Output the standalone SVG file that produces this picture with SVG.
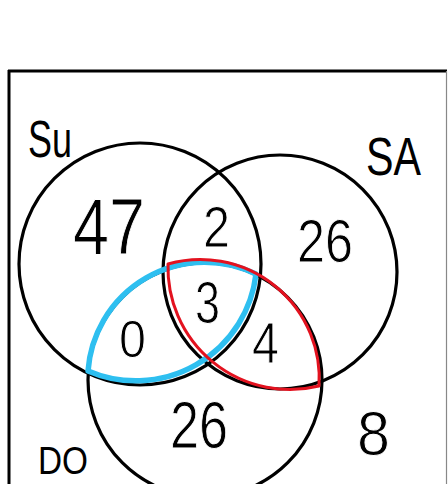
<svg xmlns="http://www.w3.org/2000/svg" width="448" height="484" viewBox="0 0 448 484">
<style>
.c{fill:none;stroke:#000;stroke-width:3.2}
.t{font-family:"Liberation Sans",Arial,sans-serif;fill:#000}
.n{stroke:#fff;stroke-width:1}
.blue{fill:none;stroke:#2ebff0;stroke-width:5.5;stroke-linejoin:round}
.red{fill:none;stroke:#e3121f;stroke-width:3;stroke-linejoin:round}
</style>
<rect width="448" height="484" fill="#fff"/>
<g id="frame">
<line x1="8" y1="71" x2="447" y2="71" stroke="#000" stroke-width="3"/>
<line x1="9" y1="70" x2="9" y2="484" stroke="#000" stroke-width="3"/>
<line x1="446.5" y1="71" x2="446.5" y2="484" stroke="#888" stroke-width="1.2"/>
</g>
<g id="su"><circle class="c" cx="140" cy="264" r="121"/></g>
<g id="sa"><circle class="c" cx="280" cy="272" r="117"/></g>
<g id="do"><circle class="c" cx="205" cy="380" r="117"/></g>
<g id="su-do-highlight"><path class="blue" d="M88,371 A117,117 0 0 1 256,274 A121,121 0 0 1 88,371 Z"/></g>
<g id="sa-do-highlight"><path class="red" d="M168,264 A119,119 0 0 1 319,386 A122,122 0 0 1 168,264 Z"/></g>
<g id="labels">
<text class="t" x="28" y="157" font-size="52" textLength="44" lengthAdjust="spacingAndGlyphs">Su</text>
<text class="t" x="366" y="175" font-size="54" textLength="55" lengthAdjust="spacingAndGlyphs">SA</text>
<text class="t" x="38" y="474" font-size="38" textLength="50" lengthAdjust="spacingAndGlyphs">DO</text>
<text class="t n" x="73" y="254" font-size="80" textLength="72" lengthAdjust="spacingAndGlyphs">47</text>
<text class="t n" x="203" y="247" font-size="57" textLength="27" lengthAdjust="spacingAndGlyphs">2</text>
<text class="t n" x="297" y="262" font-size="61" textLength="56" lengthAdjust="spacingAndGlyphs">26</text>
<text class="t n" x="195" y="323" font-size="60" textLength="25" lengthAdjust="spacingAndGlyphs">3</text>
<text class="t n" x="119" y="357" font-size="52" textLength="27" lengthAdjust="spacingAndGlyphs">0</text>
<text class="t n" x="252" y="363" font-size="57" textLength="27" lengthAdjust="spacingAndGlyphs">4</text>
<text class="t n" x="170" y="448" font-size="67" textLength="58" lengthAdjust="spacingAndGlyphs">26</text>
<text class="t n" x="357" y="455" font-size="63" textLength="33" lengthAdjust="spacingAndGlyphs">8</text>
</g>
</svg>
